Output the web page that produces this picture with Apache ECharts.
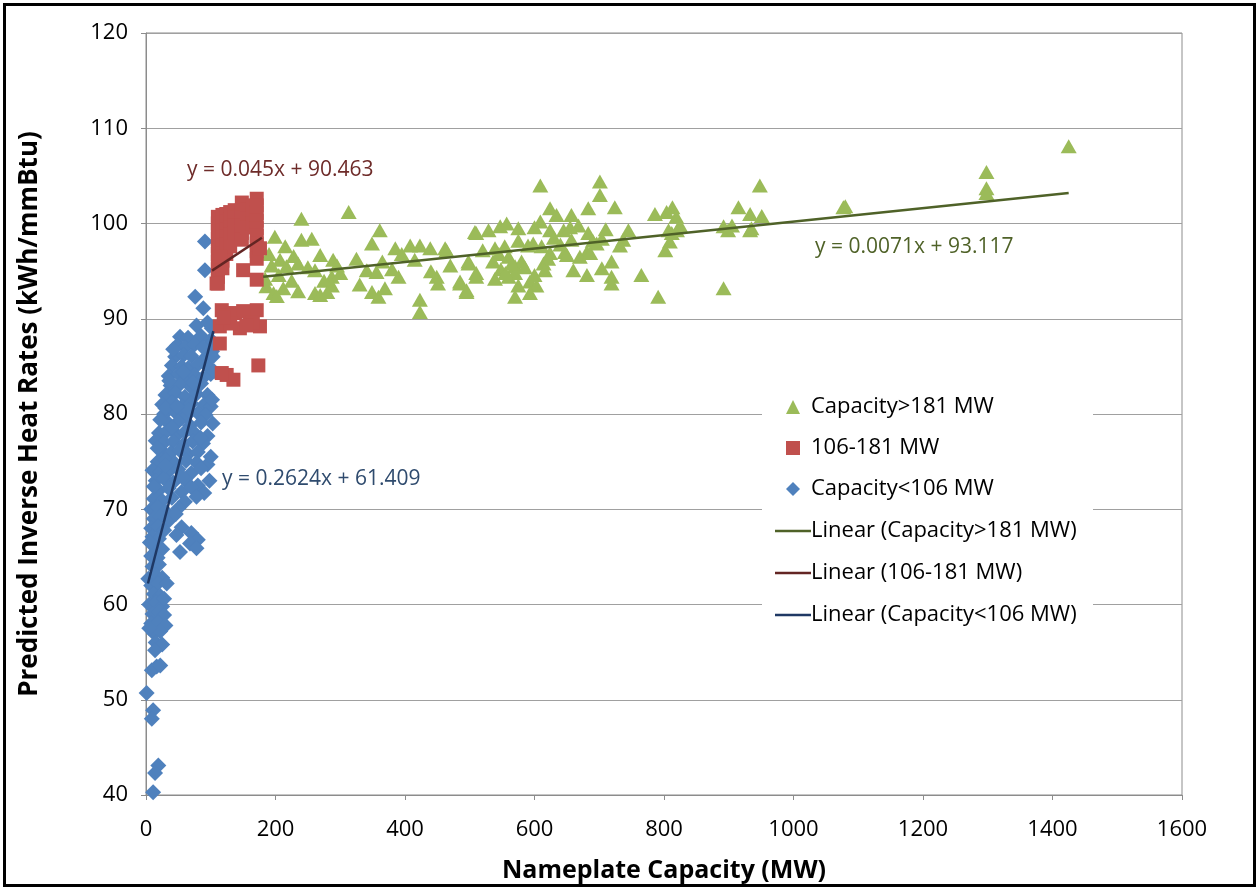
<!DOCTYPE html>
<html>
<head>
<meta charset="utf-8">
<script src="https://cdn.jsdelivr.net/npm/echarts@6/dist/echarts.min.js"></script>
<style>
  html, body { margin: 0; padding: 0; background: #fff; }
  #chart { width: 1259px; height: 890px; }
</style>
</head>
<body>
<div id="chart"></div>
<script>
// capacity > 181 MW  [MW, kWh/mmBtu]
var bigUnits = [
  [240,100.5],[313,101.2],[199,98.6],[240,98.3],[256,98.4],[215,97.6],[269,96.7],[289,96.2],[325,96.3],[349,97.9],
  [361,99.3],[385,97.4],[408,97.7],[423,97.7],[439,97.4],[462,97.4],[508,99.1],[194,95.6],[207,96.2],[217,95.5],
  [235,95.8],[261,95.1],[287,94.4],[300,94.8],[186,93.4],[197,92.7],[235,92.9],[261,92.7],[269,92.5],[287,93.5],
  [349,92.8],[359,92.3],[369,93.2],[341,95.1],[356,94.9],[390,94.4],[423,92],[423,90.7],[449,94.4],[451,93.7],
  [485,93.7],[495,93],[498,96],[464,97.2],[510,94.8],[184,94.2],[190,96.8],[205,94.6],[225,94],[212,93.2],
  [202,92.4],[228,96.6],[250,95.4],[275,94],[280,92.8],[295,95.6],[330,93.6],[365,96],[380,95.2],[395,96.8],
  [415,96.2],[470,95.6],[440,95],
  [609,104],[701,104.4],[701,103],[948,104],[624,101.6],[634,100.9],[683,101.6],[724,101.7],[657,100.9],[786,101],
  [804,101.2],[813,101.7],[819,100.7],[915,101.7],[933,101],[951,100.8],[1077,101.7],[510,99],[529,99.3],[547,99.7],
  [557,100],[575,99.5],[609,100.2],[624,99.3],[645,99.3],[668,99.8],[683,99],[704,98.4],[737,98.3],[745,99.3],
  [807,99.3],[820,99.3],[892,99.7],[899,99.3],[933,99.3],[539,97.4],[554,97.6],[590,97.7],[598,97.9],[611,97.6],
  [624,96.9],[647,97],[657,98.3],[681,97],[696,97.9],[732,97.7],[802,97.2],[809,98.1],[498,95.8],[536,96],
  [560,96.5],[570,95.5],[580,96],[614,95.8],[621,96.3],[650,96.7],[670,96.5],[686,96.9],[719,96],[485,93.9],
  [510,94.4],[539,94.2],[560,94.4],[570,94.8],[593,93.9],[603,93.5],[616,95.1],[660,95.1],[681,94.6],[704,95.3],
  [719,94.4],[719,93.7],[765,94.6],[495,92.8],[570,92.3],[593,92.7],[791,92.3],[892,93.2],
  [548,95.2],[555,94.8],[565,95.8],[585,95.4],[600,94.6],[630,98.5],[640,97.8],[690,98.2],[710,99.4],[545,96.8],
  [575,93.5],[655,99.6],[905,99.8],[825,99.8],[812,99],[600,99.6],[520,97.2],[575,98.2],
  [1298,105.4],[1298,103.7],[1298,103.2],[1425,108.1],[1080,101.8],[935,99.5]
];

// 106-181 MW
var midUnits = [
  [111,100.7],[111,100],[111,99.2],[111,98.4],[111,97.6],[111,96.8],[111,96],[111,95.2],[111,94.4],[111,93.7],
  [118,100.9],[118,100.1],[118,99.3],[118,98.5],[118,97.7],[118,96.9],[118,96.1],[118,95.3],
  [124,101],[124,100.2],[124,99.4],[124,98.6],[124,97.8],[124,96.8],
  [130,101.2],[130,100.4],[130,99.6],[130,98.8],[130,97.6],
  [137,101.4],[137,100.6],[137,99.8],[137,99],
  [148,102.2],[148,101.4],[148,100.6],[148,99.8],[148,99],[148,98.3],
  [156,101.5],[156,100.5],[156,99.6],
  [165,101.9],[165,101],[165,100],
  [171,102.6],[171,101.9],[171,101.1],[171,100.3],[171,99.5],[171,98.7],[171,97.9],[171,97.1],[171,96.3],
  [176,97.4],[150,95.1],[171,94.1],[109,93.7],[115,96.5],
  [117,90.9],[137.5,90.6],[160.6,90.2],[171,90.9],[176,89.2],[145,89],[114,89.2],[125,90.3],[150,90.8],[165,89.6],
  [130,89.5],[155,89.3],[120,90.1],
  [114,87.4],[173.5,85.1],[124.6,84.1],[135,83.6],[117,84.3]
];

// capacity < 106 MW
var smallUnits = [
  [91,98.1],[91,95.1],[76,92.3],[88.5,91.1],[78,89.3],[101.5,89],[95,89.6],[52.5,88.1],[65,88],[85,88.2],
  [100,87.8],[48,87.2],[60,87],[75,87.3],[95,87],[102,86.6],[45,86],[58,86.2],[70,86.1],[90,85.8],
  [100,86.3],[40,85.1],[55,85],[65,84.8],[80,85.2],[95,85],[35,84],[50,84.2],[62,83.9],[75,84.1],
  [88,83.8],[100,84.2],[38,83],[52,83.1],[70,82.8],[85,83.2],[30,82],[45,82.2],[60,81.8],[78,82.1],
  [95,82],[25,81],[40,81.2],[55,80.8],[70,81.1],[90,81],[100,80.8],[28,80],[45,80.2],[62,79.8],
  [80,80.1],[92,79.9],[35,79],[50,79.2],[68,78.8],[85,79.1],[20,78],[32,78.2],[48,77.8],[60,78.1],
  [75,78],[95,77.7],[15,77.2],[28,77],[42,77.1],[58,76.8],[72,77.1],[88,76.9],[25,76.1],[38,75.9],
  [52,76.2],[65,75.8],[80,76],[18,75],[30,75.2],[45,74.8],[62,75.1],[78,74.9],[95,74.7],[10,74.1],
  [22,73.9],[35,74],[50,74.2],[70,73.8],[85,74.3],[15,73],[28,73.2],[42,72.8],[60,73.1],[80,72.5],
  [20,72],[35,72.2],[55,71.8],[70,72.3],[90,71.7],[12,71.1],[25,70.9],[40,71.2],[60,70.8],[78,71.3],
  [8,70],[18,70.2],[30,69.8],[50,70.1],[12,69],[22,69.2],[35,68.8],[8,68],[18,68.2],[28,67.8],
  [55,68.1],[10,67.1],[20,66.9],[70,67.5],[80,66.8],[68,66.4],[47,67.3],[15,66],[25,65.8],[78,65.9],
  [8,65.1],[18,64.9],[52.5,65.5],[10,64],[20,64.2],[3.6,62.7],[15,63.1],[25,62.8],[8,62],[18,62.2],
  [12,61.1],[22,60.9],[5,60],[15,60.2],[25,59.8],[10,59],[20,59.2],[28,58.9],[8,58],[18,58.1],
  [30,57.8],[12,57],[22,57.2],[15,56],[25,55.8],[14,55.2],[16.5,53.5],[9,53.1],[22,53.6],[1,50.7],
  [11,48.9],[9,48],[19,43.1],[14,42.3],[11,40.3],
  [104,87.5],[105,84.5],[103,86],[102,81.5],[103,79],[100,75.5],[98,73],
  [42,86.8],[36,83.5],[30,80.6],[22,79.4],[18,76.4],[12,72.4],[6,66.5],[32,62.2],[28,60.6],[5,57.5],
  [58,84.4],[66,80.4],[84,77.5],[56,73.4],[46,69.5],[88,87],[72,83.3],[48,80.8],[40,78.6],[30,74.6]
];

// fitted lines, end points
var bigTrend = [[181, 94.4], [1425, 103.2]];
var midTrend = [[102, 95.05], [179, 98.5]];
var smallTrend = [[3, 62.2], [104, 88.7]];

var xTicks = [0, 1600, 200];
var yTicks = [40, 120, 10];

var font = "'Open Sans', 'Noto Sans', sans-serif";

var chart = echarts.init(document.getElementById('chart'));

var option = {
    animation: false,
    backgroundColor: '#fff',
    grid: {
        left: 146,
        right: 77,
        top: 33,
        bottom: 95,
        show: true,
        borderColor: '#8c8c8c',
        borderWidth: 1
    },
    xAxis: {
        type: 'value',
        min: xTicks[0],
        max: xTicks[1],
        interval: xTicks[2],
        name: 'Nameplate Capacity (MW)',
        nameLocation: 'middle',
        nameGap: 63,
        nameTextStyle: { fontFamily: font, fontWeight: 'bold', fontSize: 25, color: '#000' },
        axisLine: { lineStyle: { color: '#8c8c8c' } },
        axisTick: { show: true, length: 5, lineStyle: { color: '#8c8c8c' } },
        axisLabel: {
            fontFamily: font, fontSize: 22, color: '#000', margin: 24,
            formatter: function (v) { return String(v); }
        },
        splitLine: { show: false }
    },
    yAxis: {
        type: 'value',
        min: yTicks[0],
        max: yTicks[1],
        interval: yTicks[2],
        name: 'Predicted Inverse Heat Rates (kWh/mmBtu)',
        nameLocation: 'middle',
        nameGap: 103,
        nameTextStyle: { fontFamily: font, fontWeight: 'bold', fontSize: 26, color: '#000' },
        axisLine: { show: true, lineStyle: { color: '#8c8c8c' } },
        axisTick: { show: true, length: 5, lineStyle: { color: '#8c8c8c' } },
        axisLabel: { fontFamily: font, fontSize: 22, color: '#000', margin: 18 },
        splitLine: { show: true, lineStyle: { color: '#a0a0a0', width: 1 } }
    },
    legend: [{
        data: [
            { name: 'Capacity>181 MW', icon: 'triangle' },
            { name: '106-181 MW', icon: 'rect' },
            { name: 'Capacity<106 MW', icon: 'diamond' }
        ],
        orient: 'vertical',
        left: 781,
        top: 391,
        itemWidth: 14,
        itemHeight: 14,
        itemGap: 19,
        selectedMode: false,
        z: 6,
        textStyle: { fontFamily: font, fontSize: 22, lineHeight: 22, color: '#000', padding: [0, 0, 0, 6] }
    }, {
        data: [
            { name: 'Linear (Capacity>181 MW)', icon: 'rect' },
            { name: 'Linear (106-181 MW)', icon: 'rect' },
            { name: 'Linear (Capacity<106 MW)', icon: 'rect' }
        ],
        orient: 'vertical',
        left: 770,
        top: 515,
        itemWidth: 36,
        itemHeight: 2.5,
        itemGap: 20,
        selectedMode: false,
        z: 6,
        textStyle: { fontFamily: font, fontSize: 22, lineHeight: 22, color: '#000', padding: [0, 0, 0, -5] }
    }],
    graphic: [{
        type: 'rect',
        z: 5,
        shape: { x: 762, y: 386, width: 331, height: 246 },
        style: { fill: '#fff' }
    }, {
        type: 'rect',
        z: 10,
        shape: { x: 4.5, y: 4.5, width: 1250, height: 881 },
        style: { fill: 'none', stroke: '#000', lineWidth: 3 }
    }, {
        type: 'text',
        z: 10,
        left: 187,
        top: 160,
        style: { text: 'y = 0.045x + 90.463', fill: '#6e2b29', font: '21px ' + font }
    }, {
        type: 'text',
        z: 10,
        left: 815,
        top: 237,
        style: { text: 'y = 0.0071x + 93.117', fill: '#4f6228', font: '21px ' + font }
    }, {
        type: 'text',
        z: 10,
        left: 222,
        top: 469,
        style: { text: 'y = 0.2624x + 61.409', fill: '#2f4b6e', font: '21px ' + font }
    }],
    series: [{
        name: 'Capacity<106 MW',
        type: 'scatter',
        symbol: 'diamond',
        symbolSize: 16,
        itemStyle: { color: '#4F81BD', opacity: 1 },
        z: 2,
        data: smallUnits
    }, {
        name: 'Capacity>181 MW',
        type: 'scatter',
        symbol: 'triangle',
        symbolSize: [16, 14],
        itemStyle: { color: '#9BBB59', opacity: 1 },
        z: 2,
        data: bigUnits
    }, {
        name: '106-181 MW',
        type: 'scatter',
        symbol: 'rect',
        symbolSize: 14,
        itemStyle: { color: '#C0504D', opacity: 1 },
        z: 3,
        data: midUnits
    }, {
        name: 'Linear (Capacity>181 MW)',
        type: 'line',
        symbol: 'none',
        itemStyle: { color: '#4F6228' },
        lineStyle: { color: '#4F6228', width: 2.5 },
        z: 4,
        data: bigTrend
    }, {
        name: 'Linear (106-181 MW)',
        type: 'line',
        symbol: 'none',
        itemStyle: { color: '#632523' },
        lineStyle: { color: '#632523', width: 2.5 },
        z: 4,
        data: midTrend
    }, {
        name: 'Linear (Capacity<106 MW)',
        type: 'line',
        symbol: 'none',
        itemStyle: { color: '#1F3864' },
        lineStyle: { color: '#1F3864', width: 2.5 },
        z: 4,
        data: smallTrend
    }]
};

chart.setOption(option);
</script>
</body>
</html>
